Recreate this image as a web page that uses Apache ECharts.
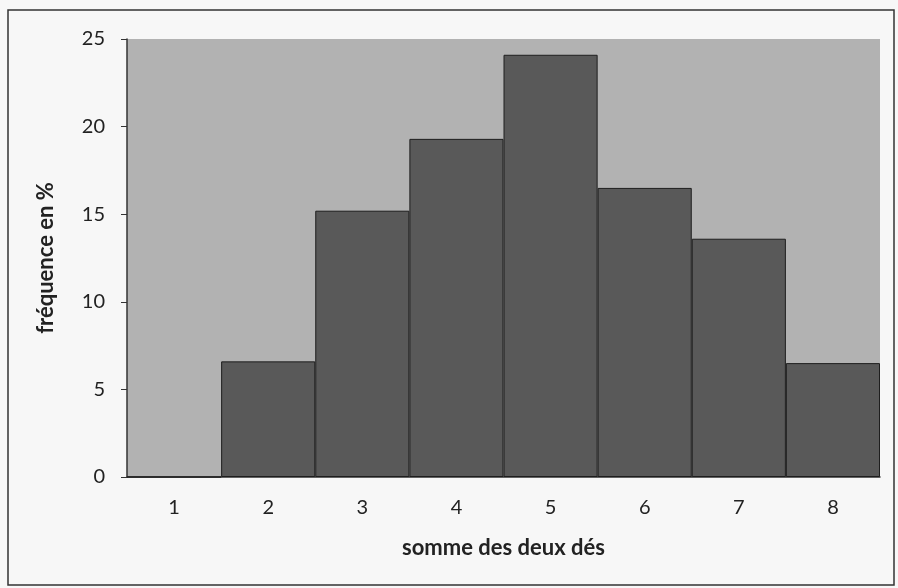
<!DOCTYPE html>
<html>
<head>
<meta charset="utf-8">
<script src="https://cdn.jsdelivr.net/npm/echarts@6/dist/echarts.min.js"></script>
<style>
  html, body { margin: 0; padding: 0; background: #f7f7f7; }
  #chart { width: 898px; height: 588px; }
</style>
</head>
<body>
<div id="chart"></div>
<script>
const sums = ["1", "2", "3", "4", "5", "6", "7", "8"];
const freq = [0, 6.6, 15.2, 19.3, 24.1, 16.5, 13.6, 6.5];
const yTicks = [0, 5, 10, 15, 20, 25];

const chart = echarts.init(document.getElementById("chart"));

const font = "Lato, 'Open Sans', sans-serif";

chart.setOption({
  animation: false,
  graphic: [
    {
      type: "rect",
      shape: { x: 8, y: 10, width: 886, height: 575 },
      style: { fill: "none", stroke: "#333", lineWidth: 1.5 },
      silent: true,
    },
  ],
  grid: {
    left: 127,
    right: 18,
    top: 39,
    bottom: 111,
    show: true,
    backgroundColor: "#b2b2b2",
    borderWidth: 0,
  },
  xAxis: {
    type: "category",
    data: sums,
    name: "somme des deux dés",
    nameLocation: "middle",
    nameGap: 60,
    nameTextStyle: { fontFamily: font, fontSize: 22, fontWeight: "bold", color: "#222" },
    axisLine: { lineStyle: { color: "#333", width: 1.5 } },
    axisTick: { show: false },
    axisLabel: { margin: 21, fontFamily: font, fontSize: 20, color: "#222" },
  },
  yAxis: {
    type: "value",
    min: yTicks[0],
    max: yTicks[yTicks.length - 1],
    interval: 5,
    name: "fréquence en %",
    nameLocation: "middle",
    nameGap: 70,
    nameTextStyle: { fontFamily: font, fontSize: 22, fontWeight: "bold", color: "#222" },
    axisLine: { show: true, lineStyle: { color: "#333", width: 1.5 } },
    axisTick: { show: true, length: 6, lineStyle: { color: "#333" } },
    axisLabel: { margin: 22, fontFamily: font, fontSize: 20, color: "#222" },
    splitLine: { show: false },
  },
  series: [
    {
      type: "bar",
      data: freq,
      barCategoryGap: "0%",
      itemStyle: { color: "#595959", borderColor: "#1e1e1e", borderWidth: 1 },
    },
  ],
});
</script>
</body>
</html>
